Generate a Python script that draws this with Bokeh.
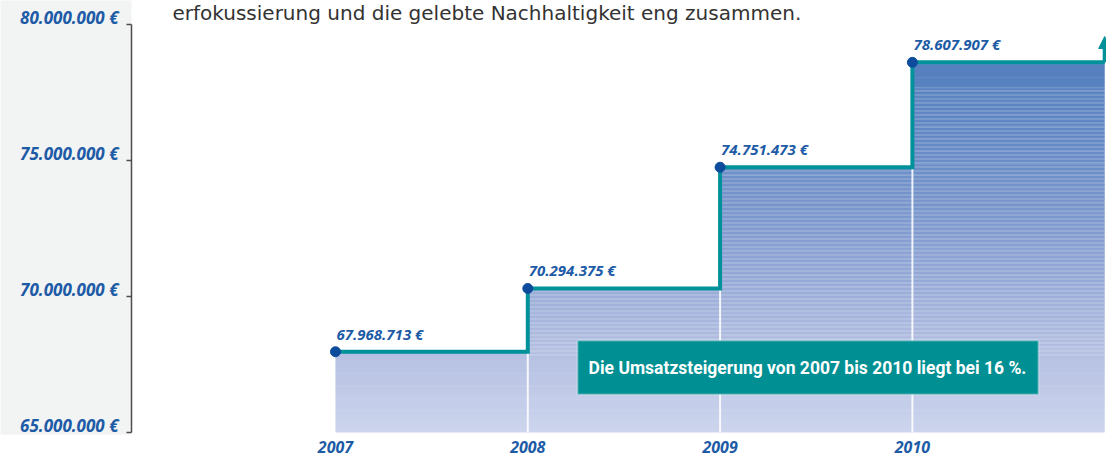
import numpy as np
from bokeh.plotting import figure
from bokeh.models import (Range1d, FixedTicker, BoxAnnotation, Label, Arrow, NormalHead)
from bokeh.embed import file_html
from bokeh.resources import INLINE
from bokeh.core.properties import value

# ---------------- data ----------------
years = [2007, 2008, 2009, 2010]
year_labels = ["2007", "2008", "2009", "2010"]
revenue = [67968713, 70294375, 74751473, 78607907]
revenue_labels = ["67.968.713 €", "70.294.375 €", "74.751.473 €", "78.607.907 €"]
y_ticks = [65000000, 70000000, 75000000, 80000000]
y_tick_labels = ["65.000.000 €", "70.000.000 €", "75.000.000 €", "80.000.000 €"]
headline = "erfokussierung und die gelebte Nachhaltigkeit eng zusammen."
note = "Die Umsatzsteigerung von 2007 bis 2010 liegt bei 16 %."

# ---------------- style ----------------
TEAL = "#00919a"
BOX_TEAL = "#008f93"
BLUE_TXT = "#1d5ba6"
DOT = "#0d4c9c"
LABEL_FONT = "Open Sans"
PANEL_GREY = "#f2f3f3"

W, H = 1106, 458
p = figure(width=W, height=H, output_backend="svg", toolbar_location=None,
           x_range=Range1d(2005.9392, 2011.0094),
           y_range=Range1d(64.9265e6, 80.882e6),
           min_border_left=131, min_border_right=0, min_border_top=0,
           min_border_bottom=24)
p.outline_line_color = None
p.grid.visible = False
p.background_fill_color = "white"
p.border_fill_color = "white"

# y axis
yax = p.yaxis[0]
yax.ticker = FixedTicker(ticks=y_ticks)
# trailing blank line lifts each label so that it sits on its tick
yax.major_label_overrides = {t: lab + "\n " for t, lab in zip(y_ticks, y_tick_labels)}
yax.major_label_text_line_height = 0.65
yax.bounds = (y_ticks[0], y_ticks[-1])
yax.axis_line_color = "#4d4d4d"
yax.axis_line_width = 1.5
yax.major_tick_line_color = "#4d4d4d"
yax.major_tick_line_width = 1.5
yax.major_tick_out = 5
yax.major_tick_in = 0
yax.minor_tick_line_color = None
yax.major_label_standoff = 8
yax.major_label_text_font = LABEL_FONT
yax.major_label_text_font_style = "bold italic"
yax.major_label_text_font_size = "17px"
yax.major_label_text_color = BLUE_TXT
# invisible axis label only to widen the grey axis panel to the page edge
yax.axis_label = " "
yax.axis_label_standoff = 0
yax.axis_label_text_font_size = "12px"
if "background_fill_color" in yax.properties():
    yax.background_fill_color = PANEL_GREY

# x axis
xax = p.xaxis[0]
xax.ticker = FixedTicker(ticks=years)
xax.major_label_overrides = dict(zip(years, year_labels))
xax.axis_line_color = None
xax.major_tick_line_color = None
xax.minor_tick_line_color = None
xax.major_tick_out = 0
xax.major_tick_in = 0
xax.major_label_standoff = 6
xax.major_label_text_font = LABEL_FONT
xax.major_label_text_font_style = "bold italic"
xax.major_label_text_font_size = "16px"
xax.major_label_text_color = BLUE_TXT

# ---------------- gradient fill under the steps ----------------
edges = years + [years[-1] + 1]
stops_v = [65.0e6, 68.0e6, 70.5e6, 73.0e6, 76.0e6, 78.6e6]
stops_c = ["#cdd5ed", "#b4bfe1", "#97aad7", "#7b97cc", "#6388c4", "#5480bd"]
stops_rgb = np.array([[int(c[i:i + 2], 16) for i in (1, 3, 5)] for c in stops_c], float)

base = y_ticks[0]
band = 0.08e6
lefts, rights, bottoms, tops, colors = [], [], [], [], []
b = base
while b < max(revenue):
    t = b + band
    mid = (b + t) / 2
    rgb = [np.interp(mid, stops_v, stops_rgb[:, k]) for k in range(3)]
    col = "#%02x%02x%02x" % tuple(int(round(v)) for v in rgb)
    for i, v in enumerate(revenue):
        if v > b:
            lefts.append(edges[i]); rights.append(edges[i + 1])
            bottoms.append(b); tops.append(min(v, t + 0.02e6))
            colors.append(col)
    b = t
p.quad(left=lefts, right=rights, bottom=bottoms, top=tops,
       fill_color=colors, line_color=None)

# horizontal white stripes (scan texture)
hl, hr, hb, ht = [], [], [], []
for i, v in enumerate(revenue):
    if v > 68.5e6:
        hl.append(edges[i]); hr.append(edges[i + 1])
        hb.append(67.8e6); ht.append(min(v, 77.7e6))
p.quad(left=hl, right=hr, bottom=hb, top=ht, fill_alpha=0, line_color=None,
       hatch_pattern="horizontal_line", hatch_color="white", hatch_alpha=0.3,
       hatch_scale=4, hatch_weight=1)

# white separators at year boundaries
p.segment(x0=years[1:], y0=[base] * (len(years) - 1), x1=years[1:], y1=revenue[:-1],
          line_color="white", line_width=2, line_alpha=0.85)

# step line
p.step(x=edges, y=revenue + [revenue[-1]], mode="after", line_color=TEAL,
       line_width=4, line_join="miter")
p.add_layout(Arrow(end=NormalHead(size=12, fill_color=TEAL, line_color=TEAL, line_width=1),
                   x_start=edges[-1], y_start=revenue[-1],
                   x_end=edges[-1], y_end=revenue[-1] + 0.95e6,
                   line_color=TEAL, line_width=4))

# points + value labels
p.scatter(x=years, y=revenue, size=10, fill_color=DOT, line_color=DOT)
p.text(x=years, y=revenue, text=revenue_labels, x_offset=1, y_offset=-18,
       text_baseline="alphabetic", text_align="left",
       text_font=value(LABEL_FONT), text_font_style="bold italic",
       text_font_size="15px", text_color=BLUE_TXT)

# headline text (cut-off paragraph line)
p.add_layout(Label(x=41, y=422, x_units="screen", y_units="screen", text=headline,
                   text_font="DejaVu Sans", text_font_size="20px",
                   text_color="#333333", text_baseline="alphabetic"))

# note box
p.add_layout(BoxAnnotation(left=446, right=907, bottom=40, top=94,
                           left_units="screen", right_units="screen",
                           top_units="screen", bottom_units="screen",
                           fill_color=BOX_TEAL, fill_alpha=1.0,
                           line_color="white", line_width=2))
p.add_layout(Label(x=676, y=67, x_units="screen", y_units="screen", text=note,
                   text_align="center", text_baseline="middle",
                   text_font="Roboto", text_font_style="bold",
                   text_font_size="17.5px", text_color="white"))

open("out.html", "w").write(file_html(p, INLINE))
